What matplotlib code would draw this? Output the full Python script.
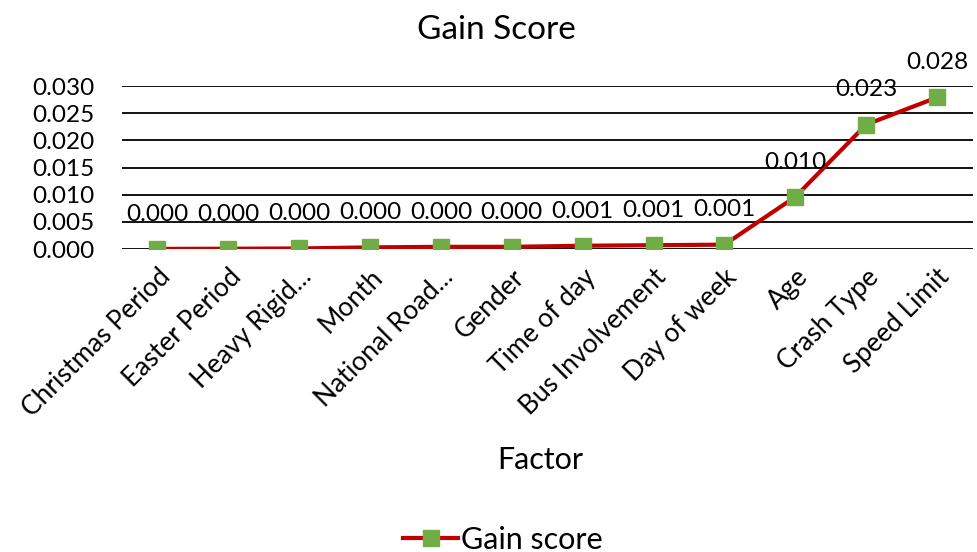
import matplotlib
matplotlib.use("Agg")
import matplotlib.pyplot as plt
from matplotlib.ticker import MultipleLocator, FormatStrFormatter

plt.rcParams['font.family'] = ['Lato', 'DejaVu Sans']

factors = ["Christmas Period", "Easter Period", "Heavy Rigid...", "Month",
           "National Road...", "Gender", "Time of day", "Bus Involvement",
           "Day of week", "Age", "Crash Type", "Speed Limit"]
gain = [0.00002, 0.00005, 0.0001, 0.0003, 0.0004, 0.0004,
        0.0006, 0.0007, 0.0008, 0.0096, 0.0229, 0.0279]

fig = plt.figure(figsize=(9.77, 5.52), dpi=100)
ax = fig.add_axes([0.1249, 0.5489, 0.8705, 0.2953])

x = list(range(len(factors)))
ax.plot(x, gain, color="#C00000", lw=3, marker="s", ms=11,
        mfc="#70AD47", mec="#70AD47", label="Gain score", zorder=3)

# value labels above each point
for xi, v in zip(x, gain):
    ax.annotate(f"{v:.3f}", (xi, v), xytext=(0, 25), textcoords="offset points",
                ha="center", va="center", fontsize=17.5)

ax.set_xlim(-0.5, len(factors) - 0.5)
ax.set_ylim(0, 0.030)
ax.yaxis.set_major_locator(MultipleLocator(0.005))
ax.yaxis.set_major_formatter(FormatStrFormatter("%.3f"))
ax.grid(axis="y", color="black", lw=1.3)
ax.set_axisbelow(True)
for s in ax.spines.values():
    s.set_visible(False)
ax.tick_params(length=0)
ax.tick_params(axis="y", pad=20, labelsize=17.5)
ax.tick_params(axis="x", pad=11, labelsize=19)
ax.set_xticks(x)
ax.set_xticklabels(factors, rotation=45, ha="right", rotation_mode="anchor")

fig.text(0.508, 0.945, "Gain Score", ha="center", va="center", fontsize=24)
fig.text(0.553, 0.167, "Factor", ha="center", va="center", fontsize=22)
fig.legend(loc="center", bbox_to_anchor=(0.515, 0.022), frameon=False,
           fontsize=22, handlelength=1.8, handletextpad=0.1)

fig.savefig("out.png", dpi=100)
